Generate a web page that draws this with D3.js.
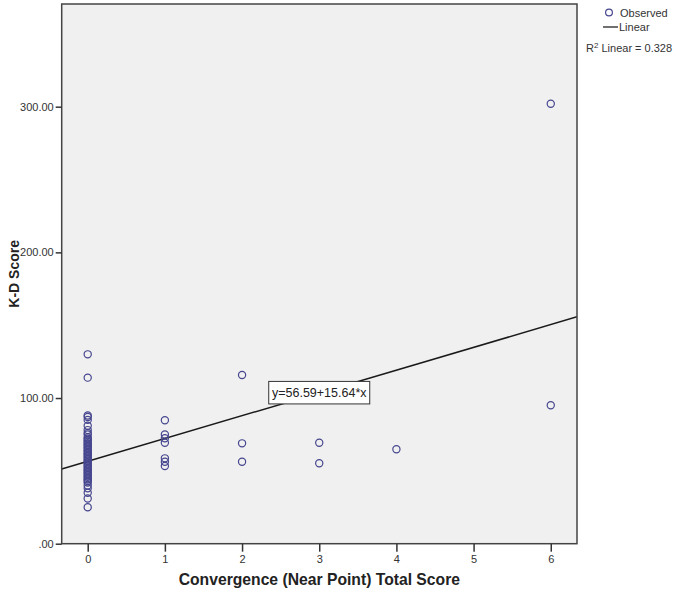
<!DOCTYPE html>
<html><head><meta charset="utf-8">
<script src="https://cdn.jsdelivr.net/npm/d3@7"></script>
<style>body{margin:0;background:#fff}svg{display:block;font-family:"Liberation Sans",Arial,sans-serif}</style>
</head><body>
<svg id="chart" width="681" height="596"></svg>
<script>
// Data
const xValues0 = [130,114,88,87,85,81,78,76,75,73,72,71,70,69,68,67,66,65,64,63,62,61,60,59,58,57,56,55,54,53,52,51,50,49,48,47,46,45,44,43,42,40,38,35,31,25];
const xValues1 = [84.7,75,72.4,69.3,58.6,56.3,53.3];
const xValues2 = [115.8,68.9,56.3];
const xValues3 = [69.3,55.2];
const xValues4 = [64.8];
const xValues6 = [302,95];
const groups = [xValues0,xValues1,xValues2,xValues3,xValues4,[],xValues6];
const groupX = [0,1,2,3,4,5,6];
const xTicks = [0,1,2,3,4,5,6];
const yTicks = [0,100,200,300];
const intercept = 56.59, slope = 15.64;
const rSquared = "0.328";

const points = [];
groups.forEach((g,i)=>g.forEach(v=>points.push({x:groupX[i],y:v})));

const svg = d3.select("#chart");
const L=61.7, R=577, T=4, B=543.7;
const x = d3.scaleLinear().domain([-0.337,6.34]).range([L,R]);
const y = d3.scaleLinear().domain([0,370.5]).range([B,T]);

svg.append("rect").attr("x",L).attr("y",T).attr("width",R-L).attr("height",B-T)
  .attr("fill","#f0f0f0");

// regression line
const [x0,x1]=x.domain();
svg.append("clipPath").attr("id","c").append("rect").attr("x",L).attr("y",T).attr("width",R-L).attr("height",B-T);
svg.append("line").attr("clip-path","url(#c)")
  .attr("x1",x(x0)).attr("y1",y(intercept+slope*x0))
  .attr("x2",x(x1)).attr("y2",y(intercept+slope*x1))
  .attr("stroke","#1a1a1a").attr("stroke-width",1.5);

// points
svg.append("g").selectAll("circle").data(points).join("circle")
  .attr("cx",d=>x(d.x)).attr("cy",d=>y(d.y)).attr("r",3.6)
  .attr("fill","none").attr("stroke","#46468f").attr("stroke-width",1.2);

// equation box
const ex=3, ey=intercept+slope*3;
const eq = svg.append("g").attr("transform",`translate(${x(ex)},${y(ey)})`);
eq.append("rect").attr("x",-50.5).attr("y",-11.5).attr("width",101).attr("height",22.5)
  .attr("fill","#fff").attr("stroke","#333").attr("stroke-width",1);
eq.append("text").attr("text-anchor","middle").attr("y",4.5).attr("font-size",12.5)
  .attr("fill","#222").text(`y=${intercept}+${slope}*x`);

// frame
svg.append("rect").attr("x",L).attr("y",T).attr("width",R-L).attr("height",B-T)
  .attr("fill","none").attr("stroke","#444").attr("stroke-width",1.5);

// axes
const yAxis = svg.append("g").attr("transform",`translate(${L},0)`)
  .call(d3.axisLeft(y).tickValues(yTicks).tickSize(6).tickPadding(2)
    .tickFormat(d=>d===0?".00":d3.format(".2f")(d)));
const xAxis = svg.append("g").attr("transform",`translate(0,${B})`)
  .call(d3.axisBottom(x).tickValues(xTicks).tickSize(8).tickPadding(4).tickFormat(d3.format("d")));
[yAxis,xAxis].forEach(a=>{
  a.select(".domain").remove();
  a.selectAll(".tick line").attr("stroke","#333").attr("stroke-width",1.5);
  a.selectAll(".tick text").attr("fill","#333").attr("font-size",11)
   .attr("font-family","'Liberation Sans',Arial,sans-serif");
});

// titles
svg.append("text").attr("x",(L+R)/2).attr("y",585).attr("text-anchor","middle")
  .attr("font-size",15.7).attr("font-weight","bold").attr("fill","#222")
  .text("Convergence (Near Point) Total Score");
svg.append("text").attr("transform",`translate(19,${(T+B)/2}) rotate(-90)`).attr("text-anchor","middle")
  .attr("font-size",14).attr("font-weight","bold").attr("fill","#222").text("K-D Score");

// legend
const lg = svg.append("g");
lg.append("circle").attr("cx",609).attr("cy",12.5).attr("r",3.4).attr("fill","none")
  .attr("stroke","#46468f").attr("stroke-width",1.2);
lg.append("text").attr("x",620).attr("y",17).attr("font-size",11).attr("fill","#333").text("Observed");
lg.append("line").attr("x1",603).attr("x2",618).attr("y1",27).attr("y2",27).attr("stroke","#222").attr("stroke-width",1.3);
lg.append("text").attr("x",619).attr("y",31).attr("font-size",11).attr("fill","#333").text("Linear");
const rt = lg.append("text").attr("x",586).attr("y",52).attr("font-size",11).attr("fill","#333");
rt.append("tspan").text("R");
rt.append("tspan").attr("dy",-4).attr("font-size",8).text("2");
rt.append("tspan").attr("dy",4).text(" Linear = " + rSquared);
</script>
</body></html>
